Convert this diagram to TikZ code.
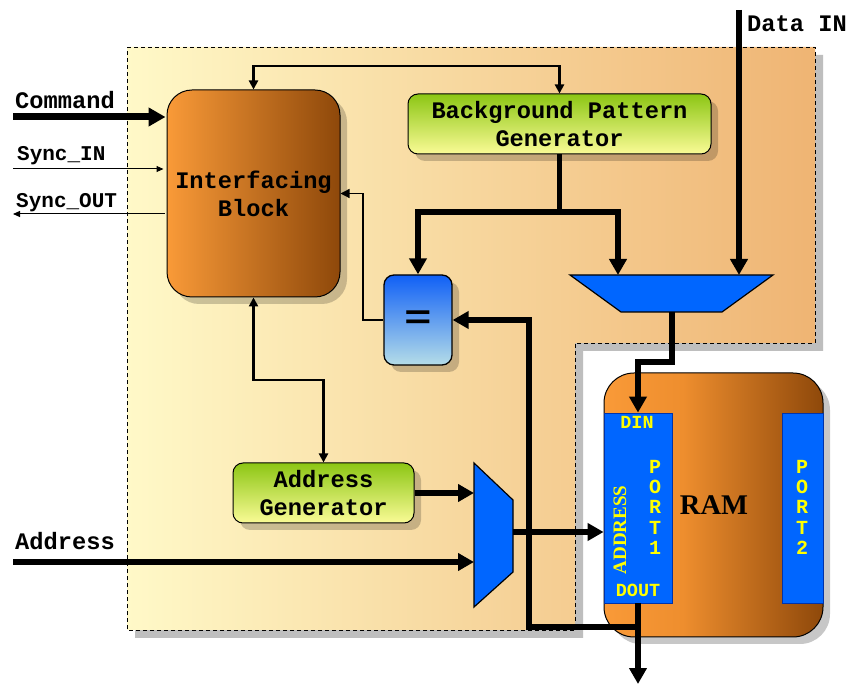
\documentclass[tikz,border=0pt]{standalone}
\usepackage{fontspec}
\setmainfont{Liberation Serif}
\newfontfamily\monofam{Liberation Mono}
\newfontfamily\sansfam{Liberation Sans}
\usetikzlibrary{arrows.meta,shadows}

\definecolor{bgL}{HTML}{FFF9C8}
\definecolor{bgR}{HTML}{EFB473}
\definecolor{orL}{HTML}{F99A38}
\definecolor{orM}{HTML}{EE8E2E}
\definecolor{brR}{HTML}{8E480A}
\definecolor{grT}{HTML}{8CC614}
\definecolor{grB}{HTML}{FAFB96}
\definecolor{blT}{HTML}{1060F6}
\definecolor{blB}{HTML}{B5DDE8}
\definecolor{muxblue}{HTML}{0066FF}
\definecolor{portedge}{HTML}{0033AA}
\definecolor{txtyel}{HTML}{FFFF00}
\definecolor{shgray}{HTML}{BEBEBE}

\pgfdeclarehorizontalshading{ramshade}{100bp}{color(0bp)=(orL); color(25bp)=(orL); color(43bp)=(orM); color(75bp)=(brR); color(100bp)=(brR)}

\tikzset{
  lbl/.style={font=\monofam\bfseries\fontsize{23.7}{28}\selectfont},
  slbl/.style={font=\monofam\bfseries\fontsize{21}{24}\selectfont},
  porttxt/.style={font=\monofam\bfseries\fontsize{18.5}{20}\selectfont, text=txtyel, inner sep=0pt},
  portletters/.style={font=\monofam\bfseries\fontsize{20}{20.25}\selectfont, text=txtyel, inner sep=0pt, align=center},
  boxshadow/.style={general shadow={shadow xshift=7pt, shadow yshift=-7pt, fill=black, opacity=0.2}},
  ibox/.style={draw, line width=1pt, rounded corners=25pt, left color=orL, right color=brR,
     boxshadow, lbl, align=center, minimum width=173pt, minimum height=207pt},
  gbox/.style={draw, line width=1pt, rounded corners=10pt, top color=grT, bottom color=grB,
     boxshadow, lbl, align=center, minimum height=60pt, inner sep=0pt},
  eqbox/.style={draw, line width=1.3pt, rounded corners=10pt, top color=blT, bottom color=blB,
     boxshadow, minimum width=68pt, minimum height=90pt, inner sep=0pt},
  portbox/.style={draw=portedge, fill=muxblue, line width=0.8pt, minimum height=190pt, inner sep=0pt},
  muxshape/.style={draw, fill=muxblue, line width=1.2pt},
  thickarrow/.style={line width=5.5pt, -{Triangle[length=16pt,width=17pt]}},
  medarrows/.style={line width=2.2pt, {Triangle[length=9pt,width=9pt]}-{Triangle[length=9pt,width=9pt]}},
  medarrow/.style={line width=1.3pt, -{Triangle[length=9pt,width=9pt]}},
  thinarrow/.style={line width=1pt, -{Triangle[length=7pt,width=6pt]}},
}

\begin{document}
\begin{tikzpicture}[x=1pt,y=-1pt]
\useasboundingbox (0,0) rectangle (847,684);
\fill[white] (0,0) rectangle (847,684);

% background region
\fill[shgray, shift={(8,8)}] (127,47) -- (815,47) -- (815,343) -- (575,343) -- (575,630) -- (127,630) -- cycle;
\shade[left color=bgL, right color=bgR] (127,47) -- (815,47) -- (815,343) -- (575,343) -- (575,630) -- (127,630) -- cycle;
\draw[line width=0.7pt, dash pattern=on 4pt off 3pt] (127,47) -- (815,47) -- (815,343) -- (575,343) -- (575,630) -- (127,630) -- cycle;

% blocks
\node[ibox] (IB) at (253.5,193.5) {Interfacing\\Block};
\node[gbox, minimum width=303pt] (BPG) at (559.5,124) {Background Pattern\\Generator};
\node[gbox, minimum width=181pt] (AG) at (323.5,493) {Address\\Generator};
\node[eqbox] (EQ) at (418,320) {};
\node[font=\monofam\bfseries\fontsize{40}{40}\selectfont, inner sep=0pt] (eqsign) at (418,320) {\scalebox{1.15}[0.85]{=}};

% RAM
\node[draw, line width=1pt, rounded corners=30pt, shading=ramshade, minimum width=219pt, minimum height=264pt,
  general shadow={shadow xshift=7pt, shadow yshift=-7pt, fill=black, opacity=0.22}] (RAM) at (713.5,505) {};
\node[portbox, minimum width=68pt] (P1) at (638,508) {};
\node[portbox, minimum width=41pt] (P2) at (802.5,508) {};
\node[font=\bfseries\fontsize{28.5}{30}\selectfont, anchor=base, inner sep=0pt] (ramlbl) at (714,515) {RAM};
\node[porttxt, anchor=base] (dinlbl) at (637,429) {DIN};
\node[porttxt, anchor=base] (doutlbl) at (638,597) {DOUT};
\node[font=\bfseries\fontsize{19}{19}\selectfont, text=txtyel, rotate=90, inner sep=0pt] (addrport) at (620,530) {ADDRESS};
\node[portletters, anchor=north] (p1lbl) at (655,460) {P\\O\\R\\T\\1};
\node[portletters, anchor=north] (p2lbl) at (802,460) {P\\O\\R\\T\\2};

% muxes
\draw[muxshape] (570,275) -- (773,275) -- (722,312) -- (621,312) -- cycle;
\coordinate (m1a) at (618,275);
\coordinate (m1b) at (739,275);
\coordinate (m1o) at (672,312);
\draw[muxshape] (474,463) -- (513,500) -- (513,572) -- (474,607) -- cycle;
\coordinate (m2a) at (474,493);
\coordinate (m2b) at (474,562);
\coordinate (m2o) at (513,532);

% external coordinates
\coordinate (cmdin) at (13,117);
\coordinate (syncin) at (13,169);
\coordinate (syncout) at (13,214);
\coordinate (addrin) at (13,562);
\coordinate (datain) at (739,10);
\coordinate (ramout) at (638,684);
\coordinate (topy) at (254,66);
\coordinate (midy) at (254,380);
\coordinate (split) at (559.5,212);
\coordinate (bend1) at (672,362);
\coordinate (eqleft) at (363,320);
\coordinate (fb) at (638,627);
\coordinate (fbx) at (529,627);

% connectors
\draw[line width=7pt, -{Triangle[length=17pt,width=18pt]}, shorten >=1pt] (cmdin) -- (cmdin -| IB.west);
\draw[thinarrow, shorten >=3pt] (syncin) -- (syncin -| IB.west);
\draw[thinarrow, shorten <=2pt] (syncout -| IB.west) -- (syncout);
\draw[medarrows] (IB.north) -- (IB.north |- topy) -| (BPG.north);
\draw[medarrows] (IB.south) -- (IB.south |- midy) -| (AG.north);
\draw[medarrow] (EQ.west) -- (eqleft) |- (IB.east);
\draw[thickarrow] (BPG.south) -- (split) -| (EQ.north);
\draw[thickarrow] (split) -| (m1a);
\draw[thickarrow] (datain) -- (m1b);
\draw[thickarrow] (m1o) -- (bend1) -| (P1.north);
\draw[thickarrow] (AG.east) -- (m2a);
\draw[thickarrow] (addrin) -- (m2b);
\draw[thickarrow] (m2o) -- (m2o -| P1.west);
\draw[thickarrow] (P1.south) -- (ramout);
\draw[thickarrow] (P1.south |- fb) -- (fbx) |- (EQ.east);

% labels
\node[lbl, anchor=base west, inner sep=0pt] (cmdlbl) at (15,109) {Command};
\node[slbl, anchor=base west, inner sep=0pt] (sinlbl) at (17,161) {Sync\_IN};
\node[slbl, anchor=base west, inner sep=0pt] (soutlbl) at (16,208) {Sync\_OUT};
\node[lbl, anchor=base west, inner sep=0pt] (addrlbl) at (15,550) {Address};
\node[lbl, anchor=base west, inner sep=0pt] (datalbl) at (747,32) {Data IN};
\end{tikzpicture}
\end{document}
